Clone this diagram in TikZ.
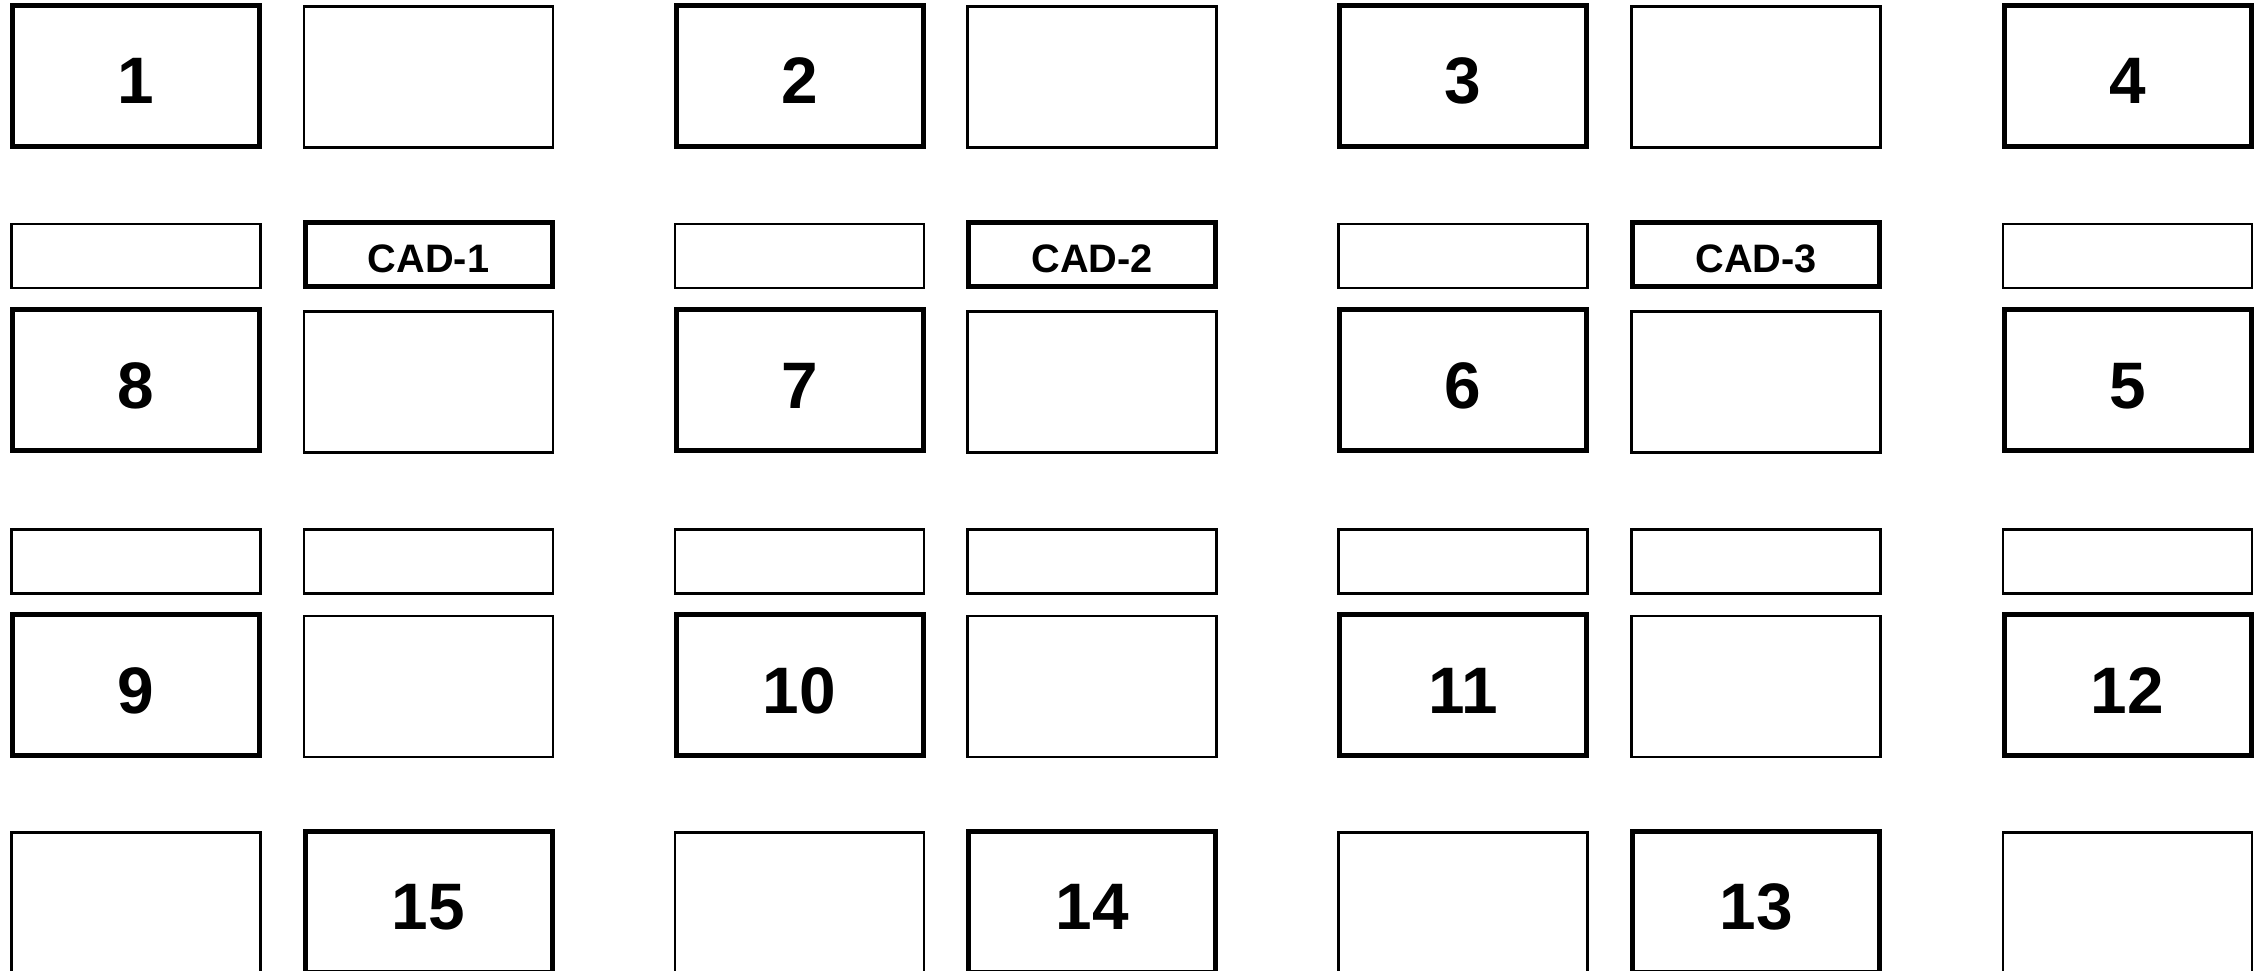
\documentclass[tikz,border=0pt]{standalone}
\usepackage{fontspec}
\setmainfont{Liberation Sans}

\tikzset{
  padbox/.style={draw, line width=0.05cm, minimum width=2.47cm, minimum height=1.41cm, inner sep=0pt,
    text height=0.56cm, text depth=0pt, font=\bfseries\fontsize{18.7}{22}\selectfont},
  blankbox/.style={draw, line width=0.025cm, minimum width=2.49cm, minimum height=1.41cm, inner sep=0pt},
  blankbar/.style={draw, line width=0.025cm, minimum width=2.49cm, minimum height=0.64cm, inner sep=0pt},
  cadbar/.style={draw, line width=0.05cm, minimum width=2.47cm, minimum height=0.64cm, inner sep=0pt,
    text height=0.355cm, text depth=0pt, font=\bfseries\fontsize{11.3}{13}\selectfont}
}

\begin{document}
\begin{tikzpicture}
\useasboundingbox (0,0) rectangle (22.61,-9.71);
\clip (0,0) rectangle (22.61,-9.71);

% three full pairs of columns
\foreach \c/\xl/\xr/\ptop/\pmid/\plow/\pbot in {1/1.36/4.285/1/8/9/15, 2/7.995/10.92/2/7/10/14, 3/14.63/17.56/3/6/11/13}{
  \node[padbox] (pad\ptop) at (\xl,-0.76) {\ptop};
  \node[blankbox] (top\c) at (\xr,-0.77) {};
  \node[blankbar] (barA\c) at (\xl,-2.56) {};
  \node[cadbar] (cad\c) at (\xr,-2.545) {CAD-\c};
  \node[padbox] (pad\pmid) at (\xl,-3.805) {\pmid};
  \node[blankbox] (mid\c) at (\xr,-3.82) {};
  \node[blankbar] (barB\c) at (\xl,-5.615) {};
  \node[blankbar] (barC\c) at (\xr,-5.615) {};
  \node[padbox] (pad\plow) at (\xl,-6.855) {\plow};
  \node[blankbox] (low\c) at (\xr,-6.865) {};
  \node[blankbox] (bot\c) at (\xl,-9.03) {};
  \node[padbox] (pad\pbot) at (\xr,-9.015) {\pbot};
}

% last single column
\node[padbox] (pad4) at (21.275,-0.76) {4};
\node[blankbar] (barA4) at (21.275,-2.56) {};
\node[padbox] (pad5) at (21.275,-3.805) {5};
\node[blankbar] (barB4) at (21.275,-5.615) {};
\node[padbox] (pad12) at (21.275,-6.855) {12};
\node[blankbox] (bot4) at (21.275,-9.03) {};
\end{tikzpicture}
\end{document}
